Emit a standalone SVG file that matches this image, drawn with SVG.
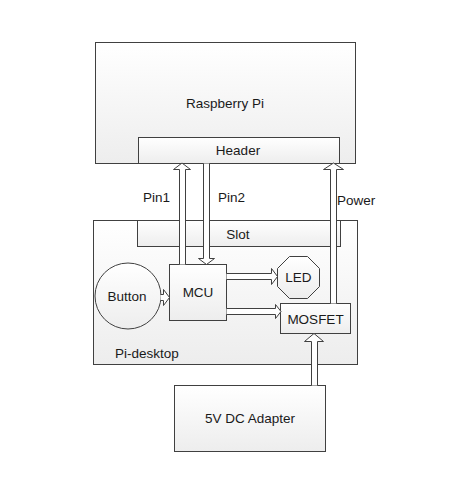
<svg xmlns="http://www.w3.org/2000/svg" width="466" height="499" viewBox="0 0 466 499">
<defs>
<linearGradient id="g" x1="0" y1="0" x2="0" y2="1">
<stop offset="0" stop-color="#ffffff"/>
<stop offset="1" stop-color="#ededed"/>
</linearGradient>
<style>
.b{fill:url(#g);stroke:#404040;stroke-width:1}
.a{fill:#ffffff;stroke:#404040;stroke-width:1;stroke-linejoin:miter}
text{font-family:"Liberation Sans",Arial,sans-serif;font-size:13.5px;fill:#1a1a1a}
.c{text-anchor:middle}
</style>
</defs>
<rect width="466" height="499" fill="#ffffff"/>
<g id="raspberry-pi">
<rect class="b" x="95.5" y="42.5" width="260" height="121"/>
<text class="c" x="225" y="108">Raspberry Pi</text>
</g>
<g id="header">
<rect class="b" x="138.5" y="137.5" width="201" height="26"/>
<text class="c" x="238" y="155">Header</text>
</g>
<g id="pi-desktop">
<rect class="b" x="93.5" y="220.5" width="264" height="144"/>
<text x="115" y="358">Pi-desktop</text>
</g>
<g id="slot">
<rect class="b" x="137.5" y="220.5" width="203" height="26"/>
<text class="c" x="238" y="239">Slot</text>
</g>
<g id="button">
<circle class="b" cx="128" cy="296" r="33"/>
<text class="c" x="127" y="301">Button</text>
</g>
<g id="mcu">
<rect class="b" x="169.5" y="264.5" width="57" height="56"/>
<text class="c" x="198" y="297">MCU</text>
</g>
<g id="led">
<polygon class="b" points="289.5,256.5 307.5,256.5 319.5,268.5 319.5,286.5 307.5,298.5 289.5,298.5 277.5,286.5 277.5,268.5"/>
<text class="c" x="298.5" y="282">LED</text>
</g>
<g id="mosfet">
<rect class="b" x="280.5" y="303.5" width="70" height="30"/>
<text class="c" x="315.5" y="324">MOSFET</text>
</g>
<g id="adapter">
<rect class="b" x="174.5" y="385.5" width="151" height="66"/>
<text class="c" x="250" y="423">5V DC Adapter</text>
</g>
<g id="connectors">
<path class="a" d="M179.5,264.5 V169.5 H173.5 L182,163 L190.5,169.5 H185.5 V264.5"/>
<path class="a" d="M203.5,163.5 V258.5 H198.5 L206.5,264.5 L214.5,258.5 H209.5 V163.5"/>
<path class="a" d="M330.5,303.5 V169.5 H323.5 L333.5,163 L343.5,169.5 H336.5 V303.5"/>
<path class="a" d="M226.5,273.5 H271.5 V268.5 L277.5,276.5 L271.5,284.5 V279.5 H226.5"/>
<path class="a" d="M226.5,308.5 H275.5 V304.5 L281,311.5 L275.5,318.5 V314.5 H226.5"/>
<path class="a" d="M160.5,294.5 H163.5 V289.5 L169.5,297.5 L163.5,305.5 V300.5 H160.5"/>
<path class="a" d="M311.5,385.5 V341.5 H304.5 L314,333.5 L323.5,341.5 H317.5 V385.5"/>
<text x="143" y="202">Pin1</text>
<text x="218" y="202">Pin2</text>
<text x="337" y="205">Power</text>
</g>
</svg>
